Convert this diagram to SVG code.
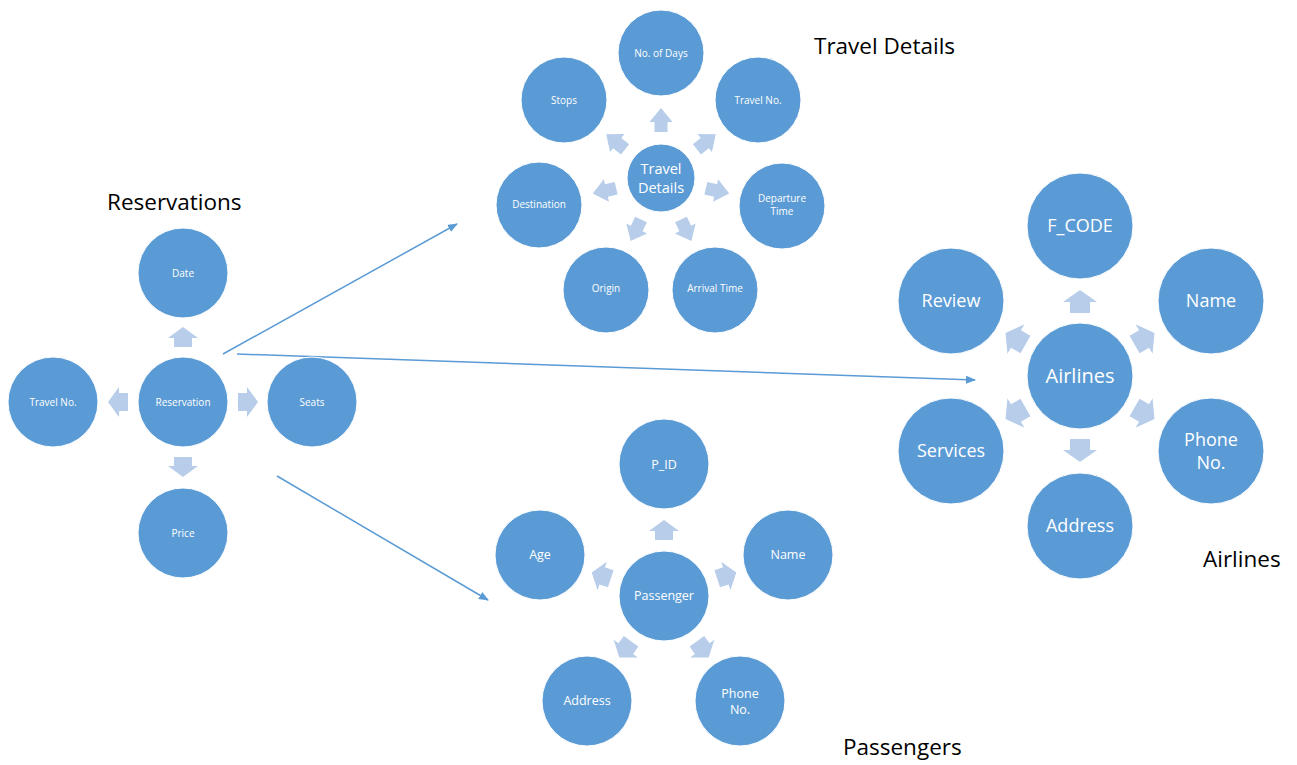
<svg xmlns="http://www.w3.org/2000/svg" xmlns:xlink="http://www.w3.org/1999/xlink" width="1297" height="765" viewBox="0 0 1297 765">
<style>
.c{fill:#5B9BD5;stroke:#FFFFFF;stroke-width:1}
.a{fill:#B7CDEA}
.t{fill:#FFFFFF;font-family:"Open Sans","Noto Sans",sans-serif;text-anchor:middle;dominant-baseline:central}
.s9{font-size:10px}
.s12{font-size:12.5px}
.s14{font-size:14.5px}
.s17{font-size:18px}
.s20{font-size:20px}
.h{fill:#000000;font-family:"Open Sans","Noto Sans",sans-serif;font-size:22.5px}
.ln{stroke:#5B9BD5;stroke-width:1.5;fill:none}
</style>
<defs>
<path id="ar" class="a" d="M0,-10 L15,1 L9,1 L9,10 L-9,10 L-9,1 L-15,1 Z"/>
<path id="at" class="a" d="M0,-12 L11.5,2 L6.5,2 L6.5,12 L-6.5,12 L-6.5,2 L-11.5,2 Z"/>
<path id="aa" class="a" d="M0,-11.5 L17,0.5 L10,0.5 L10,11.5 L-10,11.5 L-10,0.5 L-17,0.5 Z"/>
<marker id="m" markerWidth="10" markerHeight="8" refX="9" refY="4" orient="auto" markerUnits="userSpaceOnUse">
<path d="M0,0 L10,4 L0,8 Z" fill="#5B9BD5"/>
</marker>
</defs>

<rect width="1297" height="765" fill="#FFFFFF"/>

<text class="h" x="107" y="210">Reservations</text>
<text class="h" x="814" y="54">Travel Details</text>
<text class="h" x="1203" y="567">Airlines</text>
<text class="h" x="843" y="755">Passengers</text>

<g id="connectors">
<line class="ln" x1="223" y1="354" x2="457" y2="224" marker-end="url(#m)"/>
<line class="ln" x1="237" y1="354" x2="975" y2="380" marker-end="url(#m)"/>
<line class="ln" x1="277" y1="476" x2="488" y2="600" marker-end="url(#m)"/>
</g>

<!-- Reservation cluster -->
<g id="res-arrows">
<use href="#ar" transform="translate(183,402) rotate(0) translate(0,-65)"/>
<use href="#ar" transform="translate(183,402) rotate(90) translate(0,-65)"/>
<use href="#ar" transform="translate(183,402) rotate(180) translate(0,-65)"/>
<use href="#ar" transform="translate(183,402) rotate(270) translate(0,-65)"/>
</g>
<g id="reservation"><circle class="c" cx="183" cy="402" r="45"/><text class="t s9" x="183" y="402">Reservation</text></g>
<g id="res-date"><circle class="c" cx="183" cy="273" r="45"/><text class="t s9" x="183" y="273">Date</text></g>
<g id="res-seats"><circle class="c" cx="312" cy="402" r="45"/><text class="t s9" x="312" y="402">Seats</text></g>
<g id="res-price"><circle class="c" cx="183" cy="533" r="45"/><text class="t s9" x="183" y="533">Price</text></g>
<g id="res-travelno"><circle class="c" cx="53" cy="402" r="45"/><text class="t s9" x="53" y="402">Travel No.</text></g>

<!-- Travel Details cluster -->
<g id="travel-arrows">
<use href="#at" transform="translate(661,178) rotate(0) translate(0,-58)"/>
<use href="#at" transform="translate(661,178) rotate(51.43) translate(0,-58)"/>
<use href="#at" transform="translate(661,178) rotate(102.86) translate(0,-58)"/>
<use href="#at" transform="translate(661,178) rotate(154.29) translate(0,-58)"/>
<use href="#at" transform="translate(661,178) rotate(205.71) translate(0,-58)"/>
<use href="#at" transform="translate(661,178) rotate(257.14) translate(0,-58)"/>
<use href="#at" transform="translate(661,178) rotate(308.57) translate(0,-58)"/>
</g>
<g id="travel-details"><circle class="c" cx="661" cy="178" r="34"/><text class="t s14" x="661" y="168">Travel</text><text class="t s14" x="661" y="187">Details</text></g>
<g id="td-days"><circle class="c" cx="661" cy="53" r="43"/><text class="t s9" x="661" y="53">No. of Days</text></g>
<g id="td-travelno"><circle class="c" cx="758" cy="100" r="43"/><text class="t s9" x="758" y="100">Travel No.</text></g>
<g id="td-departure"><circle class="c" cx="782" cy="206" r="43"/><text class="t s9" x="782" y="198">Departure</text><text class="t s9" x="782" y="211">Time</text></g>
<g id="td-arrival"><circle class="c" cx="715" cy="290" r="43"/><text class="t s9" x="715" y="288">Arrival Time</text></g>
<g id="td-origin"><circle class="c" cx="606" cy="290" r="43"/><text class="t s9" x="606" y="288">Origin</text></g>
<g id="td-destination"><circle class="c" cx="539" cy="205" r="43"/><text class="t s9" x="539" y="204">Destination</text></g>
<g id="td-stops"><circle class="c" cx="564" cy="100" r="43"/><text class="t s9" x="564" y="100">Stops</text></g>

<!-- Passenger cluster -->
<g id="pass-arrows">
<use href="#ar" transform="translate(664,596) rotate(0) translate(0,-66)"/>
<use href="#ar" transform="translate(664,596) rotate(72) translate(0,-66)"/>
<use href="#ar" transform="translate(664,596) rotate(144) translate(0,-66)"/>
<use href="#ar" transform="translate(664,596) rotate(216) translate(0,-66)"/>
<use href="#ar" transform="translate(664,596) rotate(288) translate(0,-66)"/>
</g>
<g id="passenger"><circle class="c" cx="664" cy="596" r="45"/><text class="t s12" x="664" y="595">Passenger</text></g>
<g id="p-id"><circle class="c" cx="664" cy="464" r="45"/><text class="t s12" x="664" y="464">P_ID</text></g>
<g id="p-name"><circle class="c" cx="788" cy="555" r="45"/><text class="t s12" x="788" y="554">Name</text></g>
<g id="p-phone"><circle class="c" cx="740" cy="701" r="45"/><text class="t s12" x="740" y="693">Phone</text><text class="t s12" x="740" y="709">No.</text></g>
<g id="p-address"><circle class="c" cx="587" cy="701" r="45"/><text class="t s12" x="587" y="700">Address</text></g>
<g id="p-age"><circle class="c" cx="540" cy="555" r="45"/><text class="t s12" x="540" y="554">Age</text></g>

<!-- Airlines cluster -->
<g id="air-arrows">
<use href="#aa" transform="translate(1080,376) rotate(0) translate(0,-74.5)"/>
<use href="#aa" transform="translate(1080,376) rotate(60) translate(0,-74.5)"/>
<use href="#aa" transform="translate(1080,376) rotate(120) translate(0,-74.5)"/>
<use href="#aa" transform="translate(1080,376) rotate(180) translate(0,-74.5)"/>
<use href="#aa" transform="translate(1080,376) rotate(240) translate(0,-74.5)"/>
<use href="#aa" transform="translate(1080,376) rotate(300) translate(0,-74.5)"/>
</g>
<g id="airlines"><circle class="c" cx="1080" cy="376" r="53"/><text class="t s20" x="1080" y="375">Airlines</text></g>
<g id="a-fcode"><circle class="c" cx="1080" cy="226" r="53"/><text class="t s17" x="1080" y="225">F_CODE</text></g>
<g id="a-name"><circle class="c" cx="1211" cy="301" r="53"/><text class="t s17" x="1211" y="300">Name</text></g>
<g id="a-phone"><circle class="c" cx="1211" cy="451" r="53"/><text class="t s17" x="1211" y="439">Phone</text><text class="t s17" x="1211" y="462">No.</text></g>
<g id="a-address"><circle class="c" cx="1080" cy="526" r="53"/><text class="t s17" x="1080" y="525">Address</text></g>
<g id="a-services"><circle class="c" cx="951" cy="451" r="53"/><text class="t s17" x="951" y="450">Services</text></g>
<g id="a-review"><circle class="c" cx="951" cy="301" r="53"/><text class="t s17" x="951" y="300">Review</text></g>
</svg>
